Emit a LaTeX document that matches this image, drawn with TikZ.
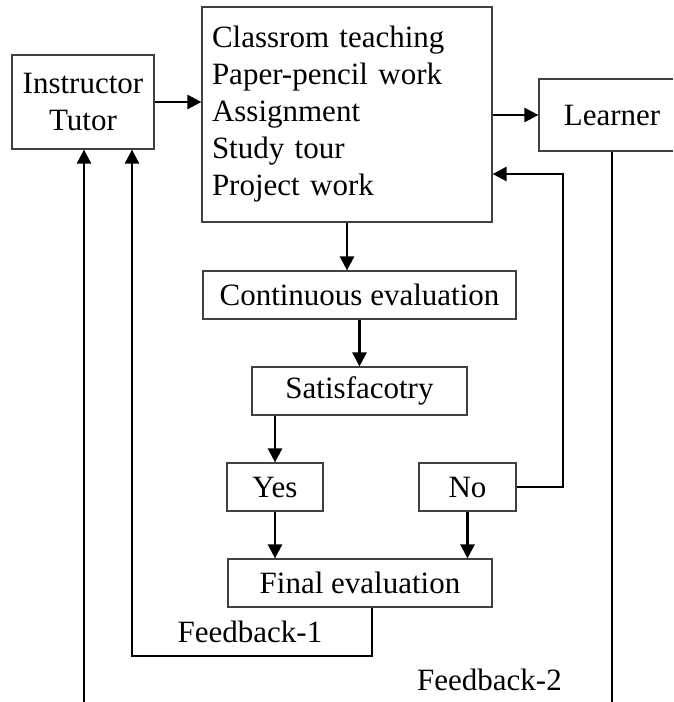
\documentclass[tikz,border=0pt]{standalone}
\usepackage{fontspec}
\setmainfont{Liberation Serif}
\usetikzlibrary{arrows.meta,calc}
\begin{document}
\begin{tikzpicture}[x=1pt,y=-1pt,
  box/.style={draw=black!75,line width=1.2pt,inner sep=0pt,font=\fontsize{31}{37}\selectfont},
  conn/.style={line width=2.6pt},
  arr/.style={conn,-{Triangle[length=14pt,width=14pt]}},
  lbl/.style={inner sep=0pt,font=\fontsize{31}{37}\selectfont}]
\useasboundingbox (0,0) rectangle (673,702);
\clip (0,0) rectangle (673,702);
\node[box,minimum width=142pt,minimum height=94pt,align=center] (instr) at (83,102) {Instructor\\Tutor};
\node[box,minimum width=290pt,minimum height=215pt,text width=270pt,inner xsep=10pt,align=left] (big) at (347,114.5)
  {Classrom teaching\\Paper-pencil work\\Assignment\\Study tour\\Project work};
\node[box,minimum width=200pt,minimum height=72pt] (learner) at (639,115) {Learner\hspace*{54pt}};
\node[box,minimum width=313pt,minimum height=48pt] (ce) at (359.5,295) {Continuous evaluation};
\node[box,minimum width=215pt,minimum height=48pt] (sat) at (359.5,391) {Satisfacotry};
\node[box,minimum width=96pt,minimum height=48pt] (yes) at (275,487) {Yes};
\node[box,minimum width=97pt,minimum height=48pt] (no) at (467.5,487) {No};
\node[box,minimum width=264pt,minimum height=48pt] (final) at (360,583) {Final evaluation};
\node[lbl] (fb1) at (250,632) {Feedback-1};
\node[lbl,anchor=west] (fb2) at (417,680) {Feedback-2};
\coordinate (nr) at (563,174);
\coordinate (f1a) at (372,656);
\coordinate (f1b) at (132,656);
\coordinate (lend) at (612,702);
\coordinate (iend) at (84,702);
\draw[arr] (instr.east) -- (instr.east -| big.west);
\draw[arr] (big.east |- learner.west) -- (learner.west);
\draw[arr] (big.south) -- (big.south |- ce.north);
\draw[arr] (ce.south) -- (sat.north);
\draw[arr] (yes.north |- sat.south) -- (yes.north);
\draw[arr] (yes.south) -- (yes.south |- final.north);
\draw[arr] (no.south) -- (no.south |- final.north);
\draw[arr] (no.east) -| (nr) -- (nr -| big.east);
\draw[arr] (f1a |- final.south) -- (f1a) -- (f1b) -- (f1b |- instr.south);
\draw[conn] (learner.south -| lend) -- (lend);
\draw[arr] (iend) -- (iend |- instr.south);
\end{tikzpicture}
\end{document}
